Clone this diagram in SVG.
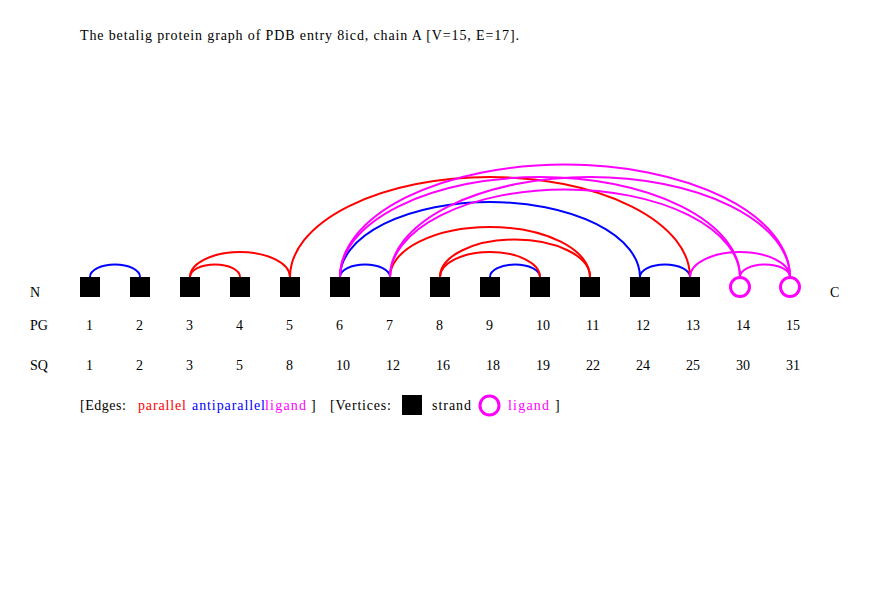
<svg xmlns="http://www.w3.org/2000/svg" width="890" height="600" viewBox="0 0 890 600">
<style>
text{font-family:"Liberation Serif","Times New Roman",serif;font-size:14px;fill:#000}
.arc{fill:none;stroke-width:2}
.par{stroke:#ff0000}
.anti{stroke:#0000ff}
.lig{stroke:#ff00ff}
.strand{fill:#000}
.ligv{fill:none;stroke:#ff00ff;stroke-width:3}
</style>
<rect width="890" height="600" fill="#fff"/>
<text x="80" y="40" textLength="439" lengthAdjust="spacing">The betalig protein graph of PDB entry 8icd, chain A [V=15, E=17].</text>
<g id="edges">
<path class="arc anti" d="M90,277 A25,12.5 0 0,1 140,277"/>
<path class="arc anti" d="M340,277 A25,12.5 0 0,1 390,277"/>
<path class="arc anti" d="M490,277 A25,12.5 0 0,1 540,277"/>
<path class="arc anti" d="M640,277 A25,12.5 0 0,1 690,277"/>
<path class="arc anti" d="M340,277 A150,75 0 0,1 640,277"/>
<path class="arc par" d="M190,277 A25,12.5 0 0,1 240,277"/>
<path class="arc par" d="M190,277 A50,25 0 0,1 290,277"/>
<path class="arc par" d="M290,277 A200,100 0 0,1 690,277"/>
<path class="arc par" d="M390,277 A100,50 0 0,1 590,277"/>
<path class="arc par" d="M440,277 A75,37.5 0 0,1 590,277"/>
<path class="arc par" d="M440,277 A50,25 0 0,1 540,277"/>
<path class="arc lig" d="M340,277 A200,100 0 0,1 740,277"/>
<path class="arc lig" d="M340,277 A225,112.5 0 0,1 790,277"/>
<path class="arc lig" d="M390,277 A175,87.5 0 0,1 740,277"/>
<path class="arc lig" d="M390,277 A200,100 0 0,1 790,277"/>
<path class="arc lig" d="M690,277 A50,25 0 0,1 790,277"/>
<path class="arc lig" d="M740,277 A25,12.5 0 0,1 790,277"/>
</g>
<text x="30" y="297">N</text>
<text x="830" y="297">C</text>
<g id="v1"><rect class="strand" x="80" y="277" width="20" height="20"/><text x="86" y="330">1</text><text x="86" y="370">1</text></g>
<g id="v2"><rect class="strand" x="130" y="277" width="20" height="20"/><text x="136" y="330">2</text><text x="136" y="370">2</text></g>
<g id="v3"><rect class="strand" x="180" y="277" width="20" height="20"/><text x="186" y="330">3</text><text x="186" y="370">3</text></g>
<g id="v4"><rect class="strand" x="230" y="277" width="20" height="20"/><text x="236" y="330">4</text><text x="236" y="370">5</text></g>
<g id="v5"><rect class="strand" x="280" y="277" width="20" height="20"/><text x="286" y="330">5</text><text x="286" y="370">8</text></g>
<g id="v6"><rect class="strand" x="330" y="277" width="20" height="20"/><text x="336" y="330">6</text><text x="336" y="370">10</text></g>
<g id="v7"><rect class="strand" x="380" y="277" width="20" height="20"/><text x="386" y="330">7</text><text x="386" y="370">12</text></g>
<g id="v8"><rect class="strand" x="430" y="277" width="20" height="20"/><text x="436" y="330">8</text><text x="436" y="370">16</text></g>
<g id="v9"><rect class="strand" x="480" y="277" width="20" height="20"/><text x="486" y="330">9</text><text x="486" y="370">18</text></g>
<g id="v10"><rect class="strand" x="530" y="277" width="20" height="20"/><text x="536" y="330">10</text><text x="536" y="370">19</text></g>
<g id="v11"><rect class="strand" x="580" y="277" width="20" height="20"/><text x="586" y="330">11</text><text x="586" y="370">22</text></g>
<g id="v12"><rect class="strand" x="630" y="277" width="20" height="20"/><text x="636" y="330">12</text><text x="636" y="370">24</text></g>
<g id="v13"><rect class="strand" x="680" y="277" width="20" height="20"/><text x="686" y="330">13</text><text x="686" y="370">25</text></g>
<g id="v14"><circle class="ligv" cx="740" cy="287" r="9.5"/><text x="736" y="330">14</text><text x="736" y="370">30</text></g>
<g id="v15"><circle class="ligv" cx="790" cy="287" r="9.5"/><text x="786" y="330">15</text><text x="786" y="370">31</text></g>
<text x="30" y="330">PG</text>
<text x="30" y="370">SQ</text>
<g id="legend">
<text x="80" y="410" textLength="46" lengthAdjust="spacing">[Edges:</text>
<text x="138" y="410" style="fill:#ff0000" textLength="48" lengthAdjust="spacing">parallel</text>
<text x="192" y="410" style="fill:#0000ff" textLength="73" lengthAdjust="spacing">antiparallel</text>
<text x="265" y="410" style="fill:#ff00ff" textLength="41" lengthAdjust="spacing">ligand</text>
<text x="311" y="410">]</text>
<text x="330" y="410" textLength="61" lengthAdjust="spacing">[Vertices:</text>
<rect class="strand" x="402" y="395" width="20" height="20"/>
<text x="432" y="410" textLength="39" lengthAdjust="spacing">strand</text>
<circle class="ligv" cx="489.5" cy="405.5" r="9.5"/>
<text x="508" y="410" style="fill:#ff00ff" textLength="41" lengthAdjust="spacing">ligand</text>
<text x="555" y="410">]</text>
</g>
</svg>
